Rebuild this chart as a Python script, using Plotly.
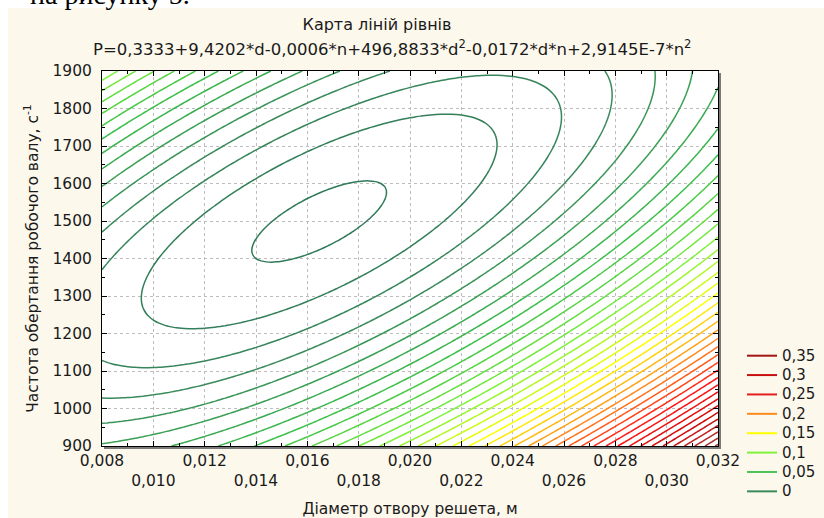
import numpy as np
import plotly.graph_objects as go

# Fitted response surface from the chart subtitle:
# P = c0 + c1*d + c2*n + c3*d^2 + c4*d*n + c5*n^2
# (c2 is printed rounded as -0,0006; -0.0005905 reproduces the drawn contours)
coefficients = [0.3333, 9.4202, -0.0005905, 496.8833, -0.0172, 2.9145e-7]

# axes ranges
d_range = [0.008, 0.032]
n_range = [900, 1900]
d_values = np.linspace(d_range[0], d_range[1], 121)
n_values = np.linspace(n_range[0], n_range[1], 101)

# contour levels (step 0.01)
level_start = -0.03
level_end = 0.35
level_step = 0.01

# legend
legend_labels = ["0,35", "0,3", "0,25", "0,2", "0,15", "0,1", "0,05", "0"]
legend_colors = ["#a01414", "#c80f0f", "#e41e1e", "#ff8a1e", "#ffff00",
                 "#80f23c", "#4cc257", "#3a8a5c"]

# tick labels
x_tick_values = [0.008, 0.010, 0.012, 0.014, 0.016, 0.018, 0.020,
                 0.022, 0.024, 0.026, 0.028, 0.030, 0.032]
x_tick_labels = ["0,008", "0,010", "0,012", "0,014", "0,016", "0,018", "0,020",
                 "0,022", "0,024", "0,026", "0,028", "0,030", "0,032"]
y_tick_values = [900, 1000, 1100, 1200, 1300, 1400, 1500, 1600, 1700, 1800, 1900]

FONT = "DejaVu Sans"

D, N = np.meshgrid(d_values, n_values)
c = coefficients
P = c[0] + c[1] * D + c[2] * N + c[3] * D ** 2 + c[4] * D * N + c[5] * N ** 2

# colourscale anchored on data values
anchor_vals = [level_start, 0.0, 0.05, 0.10, 0.15, 0.20, 0.25, 0.30, level_end]
anchor_cols = ["#2f7a58", "#3a8a5c", "#3cc04a", "#80f23c", "#ffff00",
               "#ff8a1e", "#ff1a1a", "#d00a0a", "#a83c3c"]
span = level_end - level_start
colorscale = [[(v - level_start) / span, col] for v, col in zip(anchor_vals, anchor_cols)]

# staggered x tick labels (every second label on a second row)
x_tick_text = [lab if i % 2 == 0 else "<br>" + lab for i, lab in enumerate(x_tick_labels)]

fig = go.Figure()
fig.add_trace(go.Contour(
    x=d_values, y=n_values, z=P,
    contours=dict(start=level_start, end=level_end, size=level_step,
                  coloring="lines", showlabels=False),
    colorscale=colorscale, showscale=False, line=dict(width=1.5),
    showlegend=False, hoverinfo="skip",
))

for lab, col in zip(legend_labels, legend_colors):
    fig.add_trace(go.Scatter(
        x=[None], y=[None], mode="lines", line=dict(color=col, width=2),
        name='<span style="font-size:15px">' + lab + "</span>",
        showlegend=True,
    ))

L, R, T, B = 102, 106, 71, 72
W, H = 824, 518
pw, ph = W - L - R, H - T - B


def px_x(x):
    return (x - L) / pw


def px_y(y):
    return (H - B - y) / ph


axis_common = dict(
    showline=True, linecolor="black", linewidth=1, mirror="ticks",
    ticks="inside", ticklen=5, tickcolor="black", tickwidth=1,
    showgrid=True, gridcolor="#bdbdbd", griddash="dot", gridwidth=1,
    zeroline=False, automargin=False,
    tickfont=dict(family=FONT, size=15.5, color="#1a1a1a"),
)

fig.update_layout(
    width=W, height=H, autosize=False,
    margin=dict(l=L, r=R, t=T, b=B, pad=0, autoexpand=False),
    paper_bgcolor="#fdf8ec", plot_bgcolor="white",
    font=dict(family=FONT, size=15, color="#1a1a1a"),
    title=dict(text="Карта ліній рівнів", x=377 / W, xanchor="center",
               xref="container", yref="container", y=1 - 24 / H, yanchor="middle",
               automargin=False,
               font=dict(family=FONT, size=16, color="#1a1a1a")),
    xaxis=dict(range=d_range, tickvals=x_tick_values, ticktext=x_tick_text,
               minor=dict(dtick=0.001, tick0=0.008, ticks="inside", ticklen=3,
                          tickcolor="black", showgrid=False),
               title=dict(text="Діаметр отвору решета, м",
                          font=dict(family=FONT, size=15.5), standoff=16),
               **axis_common),
    yaxis=dict(range=n_range, tickvals=y_tick_values,
               minor=dict(dtick=50, tick0=900, ticks="inside", ticklen=3,
                          tickcolor="black", showgrid=False),
               ticklabelstandoff=6,
               title=dict(text="Частота обертання робочого валу, с<sup>-1</sup>",
                          font=dict(family=FONT, size=15.5), standoff=10),
               **axis_common),
    legend=dict(x=px_x(742), y=px_y(341), xanchor="left", yanchor="top",
                bgcolor="rgba(0,0,0,0)", font=dict(family=FONT, size=12.6),
                borderwidth=0, tracegroupgap=0, itemwidth=30),
    showlegend=True,
)

fig.add_annotation(
    text="P=0,3333+9,4202*d-0,0006*n+496,8833*d<sup>2</sup>-0,0172*d*n+2,9145E-7*n<sup>2</sup>",
    xref="paper", yref="paper", x=px_x(392), y=px_y(48), xanchor="center", yanchor="middle",
    showarrow=False, font=dict(family=FONT, size=16.5, color="#1a1a1a"),
)

# fragment of the surrounding document text, cut off at the top
fig.add_annotation(
    text="на рисунку 5.", xref="paper", yref="paper",
    x=px_x(28), y=px_y(12), xanchor="left", yanchor="bottom",
    showarrow=False, font=dict(family="Liberation Serif", size=28, color="black"),
)

# white strips of the surrounding page
fig.add_shape(type="rect", xref="paper", yref="paper", layer="below",
              x0=px_x(-10), x1=px_x(W + 10), y0=px_y(8), y1=px_y(-10),
              fillcolor="white", line=dict(width=0))
fig.add_shape(type="rect", xref="paper", yref="paper", layer="below",
              x0=px_x(-10), x1=px_x(8), y0=px_y(H + 10), y1=px_y(-10),
              fillcolor="white", line=dict(width=0))

# frame shadow (right & bottom)
fig.add_shape(type="line", xref="paper", yref="paper",
              x0=px_x(720), x1=px_x(720), y0=px_y(448), y1=px_y(73),
              line=dict(color="#7a7a7a", width=2))
fig.add_shape(type="line", xref="paper", yref="paper",
              x0=px_x(104), x1=px_x(721), y0=px_y(448), y1=px_y(448),
              line=dict(color="#7a7a7a", width=2))

fig.write_html("out.html", config={"displayModeBar": False},
               post_script="document.body.style.margin='0';")
